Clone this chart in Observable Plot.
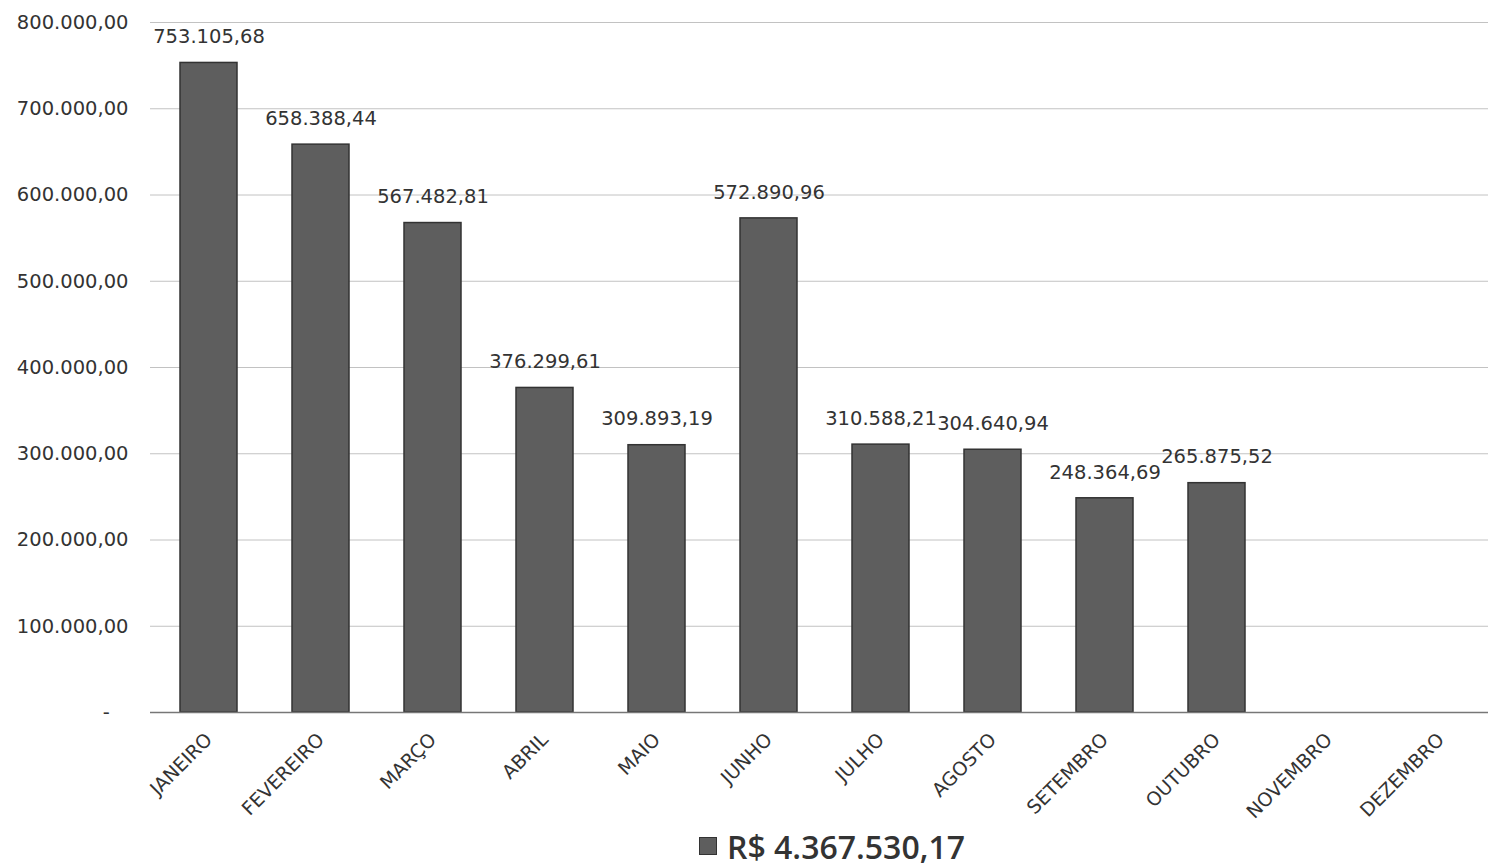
<!DOCTYPE html>
<html>
<head>
<meta charset="utf-8">
<script src="https://cdn.jsdelivr.net/npm/d3@7"></script>
<script src="https://cdn.jsdelivr.net/npm/@observablehq/plot@0.6"></script>
<style>
  body { margin: 0; background: #fff; font-family: "DejaVu Sans", sans-serif; }
  #legend { height: 40px; display: flex; align-items: center; justify-content: center; padding-left: 176px; box-sizing: border-box; font-family: "Open Sans", sans-serif; font-weight: 600; font-size: 32px; color: #333; }
  #legend .sw { width: 16px; height: 16px; background: #5e5e5e; border: 1px solid #333; margin-right: 10px; }
</style>
</head>
<body>
<div id="chart"></div>
<div id="legend"><span class="sw"></span><span>R$ 4.367.530,17</span></div>
<script>
const months = ["JANEIRO","FEVEREIRO","MARÇO","ABRIL","MAIO","JUNHO","JULHO","AGOSTO","SETEMBRO","OUTUBRO","NOVEMBRO","DEZEMBRO"];
const values = [753105.68, 658388.44, 567482.81, 376299.61, 309893.19, 572890.96, 310588.21, 304640.94, 248364.69, 265875.52, null, null];
const yTicks = [0, 100000, 200000, 300000, 400000, 500000, 600000, 700000, 800000];

const br = d3.formatLocale({decimal: ",", thousands: ".", grouping: [3], currency: ["R$ ", ""]});
const fmt = br.format(",.2f");
const data = months.map((m, i) => ({month: m, value: values[i]}));
const bars = data.filter(d => d.value != null);

const chart = Plot.plot({
  width: 1488,
  height: 826,
  marginTop: 22,
  marginBottom: 114,
  marginLeft: 150,
  marginRight: 0,
  style: {fontFamily: "DejaVu Sans, sans-serif", fontSize: "19px", color: "#333", background: "#fff"},
  x: {domain: months, range: [151, 1499], paddingInner: 0.49, paddingOuter: 0.245, label: null},
  y: {domain: [0, 800000], label: null},
  marks: [
    Plot.gridY(yTicks, {stroke: "#999", strokeOpacity: 0.6, strokeWidth: 1}),
    Plot.axisY({ticks: yTicks, tickFormat: d => d === 0 ? "-\u00a0\u00a0\u00a0" : fmt(d), tickSize: 0, tickPadding: 22, fontSize: 19.5, fill: "#333"}),
    Plot.axisX({tickRotate: -45, tickSize: 0, tickPadding: 24, fontSize: 19, fill: "#333"}),
    Plot.barY(bars, {x: "month", y: "value", fill: "#5e5e5e", stroke: "#333", strokeWidth: 1.5}),
    Plot.ruleY([0], {stroke: "#777", strokeWidth: 1.5}),
    Plot.text(bars, {x: "month", y: "value", text: d => fmt(d.value), dy: -26, fontSize: 19.5, fill: "#333"})
  ]
});
document.getElementById("chart").append(chart);
</script>
</body>
</html>
